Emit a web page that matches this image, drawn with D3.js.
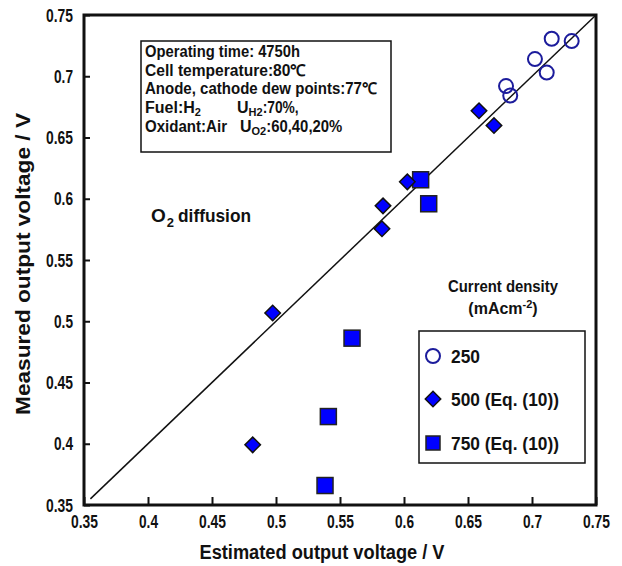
<!DOCTYPE html>
<html>
<head>
<meta charset="utf-8">
<script src="https://cdn.jsdelivr.net/npm/d3@7"></script>
<style>
  body { margin: 0; background: #fff; }
  svg { display: block; }
  text { font-family: "Liberation Sans", Arial, sans-serif; font-weight: bold; fill: #111; }
</style>
</head>
<body>
<svg id="canvas" width="622" height="566"></svg>
<script>
// values
const ticks = [0.35, 0.4, 0.45, 0.5, 0.55, 0.6, 0.65, 0.7, 0.75];

const cd250X = [0.7154, 0.731, 0.7023, 0.7115, 0.6797, 0.683];
const cd250Y = [0.7306, 0.7287, 0.714, 0.703, 0.692, 0.6843];

const cd500X = [0.6586, 0.6703, 0.6026, 0.5836, 0.5828, 0.4974, 0.4818];
const cd500Y = [0.6718, 0.6598, 0.6138, 0.5942, 0.5755, 0.5067, 0.3991];

const cd750X = [0.613, 0.6193, 0.5594, 0.5409, 0.5383];
const cd750Y = [0.6155, 0.5959, 0.4862, 0.4222, 0.3659];

const parityLine = [0.355, 0.75];
const legendLabels = ["250", "500 (Eq. (10))", "750 (Eq. (10))"];

const svg = d3.select("#canvas");

const x = d3.scaleLinear().domain([0.35, 0.75]).range([84, 596]);
const y = d3.scaleLinear().domain([0.35, 0.75]).range([505, 15]);

const fmt = (d) => String(+d.toFixed(2));
// the original font has tall narrow glyphs, so squeeze the texts
const squeeze = (sel, w) => sel.attr("textLength", w).attr("lengthAdjust", "spacingAndGlyphs");
const tickWidth = (d) => (fmt(d).length === 4 ? 27 : 19);

// axes
svg.append("g")
    .attr("transform", "translate(0,505)")
    .call(d3.axisBottom(x).tickValues(ticks).tickSize(-8).tickPadding(10).tickFormat(fmt))
    .call((g) => g.select(".domain").remove())
    .call((g) => g.selectAll("line").attr("stroke", "#111").attr("stroke-width", 2))
    .call((g) => g.selectAll("text").attr("font-size", 19).attr("font-family", null).call(squeeze, tickWidth));

svg.append("g")
    .attr("transform", "translate(84,0)")
    .call(d3.axisLeft(y).tickValues(ticks).tickSize(-6).tickPadding(11).tickFormat(fmt))
    .call((g) => g.select(".domain").remove())
    .call((g) => g.selectAll("line").attr("stroke", "#111").attr("stroke-width", 2))
    .call((g) => g.selectAll("text").attr("font-size", 19).attr("font-family", null).call(squeeze, tickWidth));

svg.append("rect")
    .attr("x", x(0.35)).attr("y", y(0.75))
    .attr("width", x(0.75) - x(0.35)).attr("height", y(0.35) - y(0.75))
    .attr("fill", "none").attr("stroke", "#111").attr("stroke-width", 3);

// axis titles
svg.append("text")
    .attr("x", 322).attr("y", 559)
    .attr("text-anchor", "middle")
    .attr("font-size", 20)
    .call(squeeze, 245)
    .text("Estimated output voltage / V");

svg.append("text")
    .attr("transform", "translate(30,264) rotate(-90)")
    .attr("text-anchor", "middle")
    .attr("font-size", 21)
    .call(squeeze, 302)
    .text("Measured output voltage  / V");

// y = x line
svg.append("line")
    .attr("x1", x(parityLine[0])).attr("y1", y(parityLine[0]))
    .attr("x2", x(parityLine[1])).attr("y2", y(parityLine[1]))
    .attr("stroke", "#111").attr("stroke-width", 1.5);

// markers
const diamond = d3.symbol().type(d3.symbolSquare).size(120);

svg.append("g").selectAll("rect")
    .data(d3.zip(cd750X, cd750Y))
    .join("rect")
    .attr("x", (d) => x(d[0]) - 8).attr("y", (d) => y(d[1]) - 8)
    .attr("width", 16).attr("height", 16)
    .attr("fill", "#0000ff").attr("stroke", "#222").attr("stroke-width", 1.5);

svg.append("g").selectAll("path")
    .data(d3.zip(cd500X, cd500Y))
    .join("path")
    .attr("d", diamond)
    .attr("transform", (d) => `translate(${x(d[0])},${y(d[1])}) rotate(45)`)
    .attr("fill", "#0000ff").attr("stroke", "#111").attr("stroke-width", 1.5);

svg.append("g").selectAll("circle")
    .data(d3.zip(cd250X, cd250Y))
    .join("circle")
    .attr("cx", (d) => x(d[0])).attr("cy", (d) => y(d[1]))
    .attr("r", 7)
    .attr("fill", "none").attr("stroke", "#1c1c9c").attr("stroke-width", 2);

// conditions box
svg.append("rect")
    .attr("x", 141).attr("y", 41).attr("width", 250).attr("height", 111)
    .attr("fill", "#fff").attr("stroke", "#111").attr("stroke-width", 1.5);

const info = svg.append("g").attr("font-size", 16);
info.append("text").attr("x", 145).attr("y", 57).call(squeeze, 155).text("Operating time: 4750h");
info.append("text").attr("x", 145).attr("y", 75.5).call(squeeze, 161).text("Cell temperature:80℃");
info.append("text").attr("x", 145).attr("y", 94).call(squeeze, 232).text("Anode, cathode dew points:77℃");

const fuel = info.append("text").attr("x", 145).attr("y", 112.5);
fuel.append("tspan").text("Fuel:H");
fuel.append("tspan").attr("font-size", 11).attr("dy", 3).text("2");
const uh = info.append("text").attr("x", 237).attr("y", 112.5);
uh.append("tspan").text("U");
uh.append("tspan").attr("font-size", 11).attr("dy", 3).text("H2");
uh.append("tspan").attr("dy", -3).call(squeeze, 36).text(":70%,");

info.append("text").attr("x", 145).attr("y", 131.5).call(squeeze, 82).text("Oxidant:Air");
const uo = info.append("text").attr("x", 240).attr("y", 131.5);
uo.append("tspan").text("U");
uo.append("tspan").attr("font-size", 11).attr("dy", 3).text("O2");
uo.append("tspan").attr("dy", -3).call(squeeze, 76).text(":60,40,20%");

// O2 diffusion note
const o2 = svg.append("text").attr("x", 151).attr("y", 222).attr("font-size", 19);
o2.append("tspan").text("O");
o2.append("tspan").attr("font-size", 13).attr("dy", 5).attr("dx", 1).text("2");
o2.append("tspan").attr("dy", -5).attr("dx", 4).call(squeeze, 73).text("diffusion");

// legend
svg.append("text")
    .attr("x", 503).attr("y", 292).attr("text-anchor", "middle")
    .attr("font-size", 16).call(squeeze, 110).text("Current density");
const unit = svg.append("text")
    .attr("x", 503).attr("y", 314).attr("text-anchor", "middle").attr("font-size", 16);
unit.append("tspan").text("(mAcm");
unit.append("tspan").attr("font-size", 11).attr("dy", -6).text("-2");
unit.append("tspan").attr("dy", 6).text(")");

svg.append("rect")
    .attr("x", 419).attr("y", 331).attr("width", 166).attr("height", 132)
    .attr("fill", "#fff").attr("stroke", "#111").attr("stroke-width", 1.5);

const legendY = [356, 399, 443];
svg.append("circle").attr("cx", 433).attr("cy", legendY[0]).attr("r", 7)
    .attr("fill", "none").attr("stroke", "#1c1c9c").attr("stroke-width", 2);
svg.append("path").attr("d", diamond)
    .attr("transform", `translate(433,${legendY[1]}) rotate(45)`)
    .attr("fill", "#0000ff").attr("stroke", "#111").attr("stroke-width", 1.5);
svg.append("rect").attr("x", 426).attr("y", legendY[2] - 7).attr("width", 14).attr("height", 14)
    .attr("fill", "#0000ff").attr("stroke", "#222").attr("stroke-width", 1.5);

svg.append("g").selectAll("text")
    .data(legendLabels)
    .join("text")
    .attr("x", 451)
    .attr("y", (d, i) => legendY[i] + 6.5)
    .attr("font-size", 19)
    .call(squeeze, (d, i) => (i === 0 ? 29 : 108))
    .text((d) => d);
</script>
</body>
</html>
